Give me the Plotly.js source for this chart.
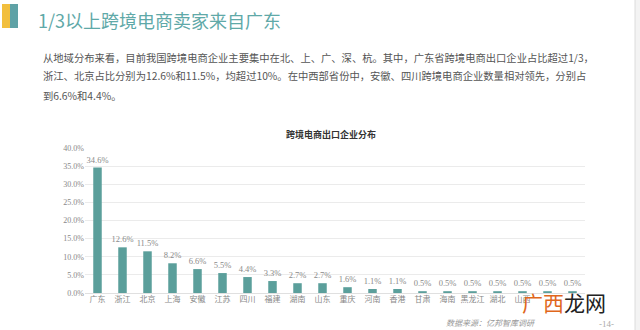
<!DOCTYPE html>
<html>
<head>
<meta charset="utf-8">
<script src="https://cdn.plot.ly/plotly-3.0.1.min.js"></script>
<style>
html,body{margin:0;padding:0;background:#fff;}
#chart{width:640px;height:330px;}
</style>
</head>
<body>
<div id="chart"></div>
<script>
const categories = ["广东","浙江","北京","上海","安徽","江苏","四川","福建","湖南","山东","重庆","河南","香港","甘肃","海南","黑龙江","湖北","山西","天津","广西"];
const shares = [34.6,12.6,11.5,8.2,6.6,5.5,4.4,3.3,2.7,2.7,1.6,1.1,1.1,0.5,0.5,0.5,0.5,0.5,0.5,0.5];
// the last two category names are hidden under the watermark in the reference
const tickLabels = ["广东","浙江","北京","上海","安徽","江苏","四川","福建","湖南","山东","重庆","河南","香港","甘肃","海南","黑龙江","湖北","山西","",""];
const yTicks = [0,5,10,15,20,25,30,35,40];

const pageTitle = "1/3以上跨境电商卖家来自广东";
const paraLines = [
  "从地域分布来看，目前我国跨境电商企业主要集中在北、上、广、深、杭。其中，广东省跨境电商出口企业占比超过1/3，",
  "浙江、北京占比分别为12.6%和11.5%，均超过10%。在中西部省份中，安徽、四川跨境电商企业数量相对领先，分别占",
  "到6.6%和4.4%。"
];
const chartTitle = "跨境电商出口企业分布";
const sourceText = "数据来源：亿邦智库调研";
const pageNo = "-14-";

// plot area in pixels
const L = 85, R = 585, T = 148, B = 293;
const px = x => (x - L) / (R - L);
const py = y => (B - y) / (B - T);

const serif = "Liberation Serif, Noto Sans CJK SC, serif";
const sans = "Noto Sans CJK SC, Noto Sans, sans-serif";

const trace = {
  type: "bar",
  x: categories,
  y: shares,
  marker: {color: "#5b9f9b"},
  width: 0.34,
  text: shares.map(v => v.toFixed(1) + "%"),
  textposition: "outside",
  constraintext: "none",
  cliponaxis: false,
  textfont: {family: serif, size: 8.5, color: "#8a8a8a"},
  hoverinfo: "skip"
};

const annotations = [
  {text: pageTitle, x: px(36), y: py(20), xref: "paper", yref: "paper", xanchor: "left", yanchor: "middle", showarrow: false, font: {family: sans, size: 18, color: "#5fa9a8"}},
  {text: chartTitle, x: px(331), y: py(134), xref: "paper", yref: "paper", xanchor: "center", yanchor: "middle", showarrow: false, font: {family: sans, size: 9, color: "#333", weight: "bold"}},
  {text: "<i>" + sourceText + "</i>", x: px(491), y: py(322), xref: "paper", yref: "paper", xanchor: "center", yanchor: "middle", showarrow: false, font: {family: sans, size: 8, color: "#999"}},
  {text: pageNo, x: px(606), y: py(324), xref: "paper", yref: "paper", xanchor: "center", yanchor: "middle", showarrow: false, font: {family: serif, size: 9, color: "#aaa"}},
  {text: "<span style='color:#e0671c'>广西</span><span style='color:#222'>龙网</span>", x: px(564), y: py(302), xref: "paper", yref: "paper", xanchor: "center", yanchor: "middle", showarrow: false, font: {family: sans, size: 21, color: "#222"}}
];
paraLines.forEach((t, i) => {
  annotations.push({text: t, x: px(41), y: py(57 + i * 19), xref: "paper", yref: "paper", xanchor: "left", yanchor: "middle", showarrow: false, font: {family: sans, size: 10.3, color: "#555"}});
});

const shapes = [
  {type: "rect", xref: "paper", yref: "paper", x0: px(2), x1: px(10), y0: py(28), y1: py(4), fillcolor: "#f2bf3e", line: {width: 0}},
  {type: "rect", xref: "paper", yref: "paper", x0: px(10), x1: px(18), y0: py(28), y1: py(4), fillcolor: "#5fa2a6", line: {width: 0}},
  {type: "rect", xref: "paper", yref: "paper", x0: px(635), x1: px(640), y0: py(330), y1: py(0), fillcolor: "#f3f3f3", line: {width: 0}},
  {type: "line", xref: "paper", yref: "paper", x0: px(635), x1: px(635), y0: py(330), y1: py(0), line: {color: "#dcdcdc", width: 1}}
];

const layout = {
  width: 640, height: 330,
  margin: {l: L, r: 640 - R, t: T, b: 330 - B, pad: 0},
  paper_bgcolor: "#fff", plot_bgcolor: "#fff",
  showlegend: false,
  xaxis: {
    type: "category", tickvals: categories, ticktext: tickLabels,
    tickfont: {family: serif, size: 8, color: "#888"},
    showgrid: false, showline: false, ticks: "", fixedrange: true, tickangle: 0
  },
  yaxis: {
    range: [0, 40], tickvals: yTicks, ticktext: yTicks.map(v => v.toFixed(1) + "%"),
    tickfont: {family: serif, size: 8, color: "#888"},
    gridcolor: "#ebebeb", gridwidth: 1, zeroline: true, zerolinecolor: "#e0e0e0", zerolinewidth: 1,
    showline: false, ticks: "", fixedrange: true
  },
  annotations: annotations,
  shapes: shapes
};

Plotly.newPlot("chart", [trace], layout, {displayModeBar: false, staticPlot: true});
</script>
</body>
</html>
